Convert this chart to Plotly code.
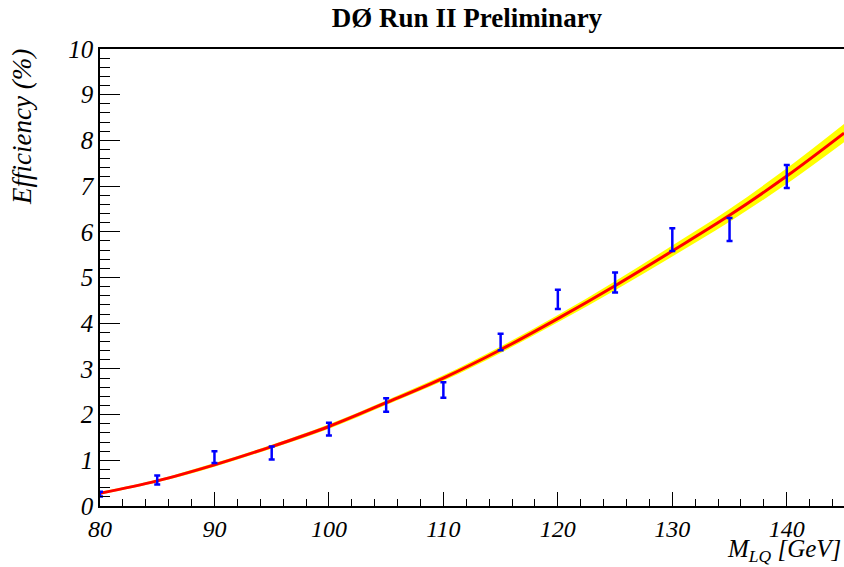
import plotly.graph_objects as go

# Measured efficiency points
mass = [80, 85, 90, 95, 100, 105, 110, 115, 120, 125, 130, 135, 140]
eff = [0.26, 0.57, 1.07, 1.16, 1.68, 2.21, 2.54, 3.59, 4.52, 4.89, 5.83, 6.05, 7.21]
eff_err = [0.05, 0.10, 0.13, 0.14, 0.14, 0.15, 0.17, 0.18, 0.21, 0.22, 0.25, 0.25, 0.25]

# Fit curve
fit_mass = [80, 85, 90, 95, 100, 105, 110, 115, 120, 125, 130, 135, 140, 145]
fit_eff = [0.28, 0.55, 0.90, 1.30, 1.74, 2.26, 2.80, 3.42, 4.10, 4.82, 5.58, 6.36, 7.22, 8.16]
fit_band = [0.03, 0.03, 0.04, 0.04, 0.05, 0.05, 0.06, 0.07, 0.08, 0.10, 0.12, 0.14, 0.17, 0.20]

x_ticks = [80, 90, 100, 110, 120, 130, 140]
y_ticks = [0, 1, 2, 3, 4, 5, 6, 7, 8, 9, 10]

serif = "Liberation Serif"
FS = 24

upper = [f + b for f, b in zip(fit_eff, fit_band)]
lower = [f - b for f, b in zip(fit_eff, fit_band)]

fig = go.Figure()
fig.add_trace(go.Scatter(x=fit_mass, y=lower, mode="lines", line=dict(width=0, shape="spline"),
                         hoverinfo="skip", showlegend=False))
fig.add_trace(go.Scatter(x=fit_mass, y=upper, mode="lines", line=dict(width=0, shape="spline"),
                         fill="tonexty", fillcolor="#ffff00", hoverinfo="skip", showlegend=False))
fig.add_trace(go.Scatter(x=fit_mass, y=fit_eff, mode="lines",
                         line=dict(color="#ff0000", width=3, shape="spline"), showlegend=False))
fig.add_trace(go.Scatter(x=mass, y=eff, mode="markers",
                         marker=dict(color="#0000ff", size=1),
                         error_y=dict(type="data", array=eff_err, color="#0000ff", thickness=2.5, width=3),
                         showlegend=False, cliponaxis=True))

W, H = 844, 567
fig.update_layout(
    width=W, height=H,
    margin=dict(l=100, r=0, t=49, b=61, pad=0),
    paper_bgcolor="white", plot_bgcolor="white",
    title=dict(text="<b>DØ Run II Preliminary</b>", font=dict(family=serif, size=27, color="black"),
               xref="container", x=467 / W, xanchor="center", yref="container",
               y=1 - 18 / H, yanchor="middle"),
    xaxis=dict(range=[80, 145], tickvals=x_ticks, ticktext=[str(v) for v in x_ticks],
               ticks="inside", ticklen=14, tickwidth=1, tickcolor="black",
               minor=dict(dtick=2, ticks="inside", ticklen=7, tickwidth=1, tickcolor="black"),
               showline=True, linecolor="black", linewidth=1.5, mirror=True,
               showgrid=False, zeroline=False,
               tickfont=dict(family=serif, size=FS, color="black", style="italic")),
    yaxis=dict(range=[0, 10], tickvals=y_ticks, ticktext=[str(v) for v in y_ticks],
               ticks="inside", ticklen=20, tickwidth=1, tickcolor="black",
               minor=dict(dtick=0.2, ticks="inside", ticklen=10, tickwidth=1, tickcolor="black"),
               showline=True, linecolor="black", linewidth=1.5,
               showgrid=False, zeroline=False,
               tickfont=dict(family=serif, size=FS + 1, color="black", style="italic")),
    annotations=[
        dict(text="Efficiency (%)", textangle=-90, xref="paper", yref="paper",
             x=-(100 - 22) / 744, y=1.0 + 2 / 457, xanchor="center", yanchor="top", showarrow=False,
             font=dict(family=serif, size=27, color="black", style="italic")),
        dict(text="M<sub>LQ</sub> [GeV]", xref="paper", yref="paper",
             x=1.0 - 2 / 744, y=-(567 - 506) / 457, xanchor="right", yanchor="bottom", showarrow=False,
             yshift=0, borderpad=0,
             font=dict(family=serif, size=25, color="black", style="italic")),
    ],
)

fig.write_html(
    "out.html",
    config={"displayModeBar": False},
    post_script=(
        "document.body.style.margin='0';"
        "document.body.style.overflow='hidden';"
        "document.documentElement.style.overflow='hidden';"
    ),
)
